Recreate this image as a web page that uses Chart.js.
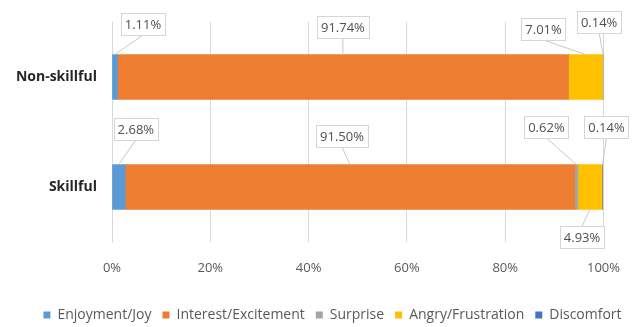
<!DOCTYPE html>
<html>
<head>
<meta charset="utf-8">
<script src="https://cdn.jsdelivr.net/npm/chart.js@4.4.0/dist/chart.umd.min.js"></script>
<style>
  html, body { margin: 0; padding: 0; background: #fff; }
  #wrap { width: 638px; height: 327px; }
</style>
</head>
<body>
<div id="wrap"><canvas id="emotionChart" width="638" height="327"></canvas></div>
<script>
const groups = ['Non-skillful', 'Skillful'];
const emotions = ['Enjoyment/Joy', 'Interest/Excitement', 'Surprise', 'Angry/Frustration', 'Discomfort'];
const enjoyment = [1.11, 2.68];
const interest = [91.74, 91.50];
const surprise = [0, 0.62];
const angry = [7.01, 4.93];
const discomfort = [0.14, 0.14];
const xTicks = [0, 20, 40, 60, 80, 100];

const colors = ['#5B9BD5', '#ED7D31', '#A5A5A5', '#FFC000', '#4472C4'];

// callout offsets from each segment's centre, [dx, dy] per group
const calloutOffsets = [
  [[28, -53], [17, -58]],
  [[0, -50], [-8, -51]],
  [null, [-30, -60]],
  [[-42, -48], [-8, 50]],
  [[-4, -55], [4, -60]]
];

const seriesValues = [enjoyment, interest, surprise, angry, discomfort];

const calloutPlugin = {
  id: 'callouts',
  afterDatasetsDraw(chart) {
    const ctx = chart.ctx;
    ctx.save();
    ctx.font = '13px "Open Sans", sans-serif';
    ctx.textAlign = 'center';
    ctx.textBaseline = 'middle';
    chart.data.datasets.forEach((ds, i) => {
      const meta = chart.getDatasetMeta(i);
      meta.data.forEach((bar, j) => {
        const v = ds.data[j];
        const off = calloutOffsets[i][j];
        if (!v || !off) return;
        const props = bar.getProps(['x', 'y', 'base', 'height'], true);
        const cx = (props.x + props.base) / 2;
        const cy = props.y;
        const lx = cx + off[0];
        const ly = cy + off[1];
        const text = v.toFixed(2) + '%';
        const w = ctx.measureText(text).width + 8;
        const h = 22;
        // leader line from box edge to bar edge
        const edgeY = off[1] < 0 ? cy - props.height / 2 : cy + props.height / 2;
        const startY = off[1] < 0 ? ly + h / 2 : ly - h / 2;
        ctx.strokeStyle = '#C8C8C8';
        ctx.lineWidth = 1;
        ctx.beginPath();
        ctx.moveTo(lx, startY);
        ctx.lineTo(cx, edgeY);
        ctx.stroke();
        ctx.fillStyle = '#FFFFFF';
        ctx.fillRect(lx - w / 2, ly - h / 2, w, h);
        ctx.strokeStyle = '#D6D6D6';
        ctx.strokeRect(Math.round(lx - w / 2) + 0.5, Math.round(ly - h / 2) + 0.5, Math.round(w), h);
        ctx.fillStyle = '#505050';
        ctx.fillText(text, lx, ly + 1);
      });
    });
    ctx.restore();
  }
};

// nudge the legend row right so it sits under the whole figure
const legendShift = {
  id: 'legendShift',
  afterLayout(chart) {
    chart.legend.left += 30;
    chart.legend.right += 30;
  }
};

new Chart(document.getElementById('emotionChart'), {
  type: 'bar',
  data: {
    labels: groups,
    datasets: emotions.map((name, i) => ({
      label: name,
      data: seriesValues[i],
      backgroundColor: colors[i],
      borderWidth: 0,
      barThickness: 45
    }))
  },
  options: {
    indexAxis: 'y',
    responsive: false,
    animation: false,
    layout: { padding: { top: 22, right: 33, bottom: -5, left: 0 } },
    scales: {
      x: {
        stacked: true,
        min: 0,
        max: 100,
        afterBuildTicks(axis) { axis.ticks = xTicks.map(v => ({ value: v })); },
        afterFit(axis) { axis.height = 55; },
        grid: { color: '#D9D9D9', drawTicks: false },
        border: { display: false },
        ticks: {
          padding: 18,
          color: '#595959',
          font: { family: '"Open Sans", sans-serif', size: 13 },
          callback: v => v + '%'
        }
      },
      y: {
        stacked: true,
        afterFit(axis) { axis.width = 112; },
        grid: { display: false },
        border: { color: '#D9D9D9' },
        ticks: {
          padding: 7,
          color: '#262626',
          font: { family: '"Open Sans", sans-serif', size: 14, weight: 'bold' }
        }
      }
    },
    plugins: {
      legend: {
        position: 'bottom',
        labels: {
          boxWidth: 7,
          boxHeight: 7,
          padding: 11,
          color: '#595959',
          font: { family: '"Open Sans", sans-serif', size: 14 }
        }
      },
      tooltip: { enabled: false }
    }
  },
  plugins: [calloutPlugin, legendShift]
});
</script>
</body>
</html>
